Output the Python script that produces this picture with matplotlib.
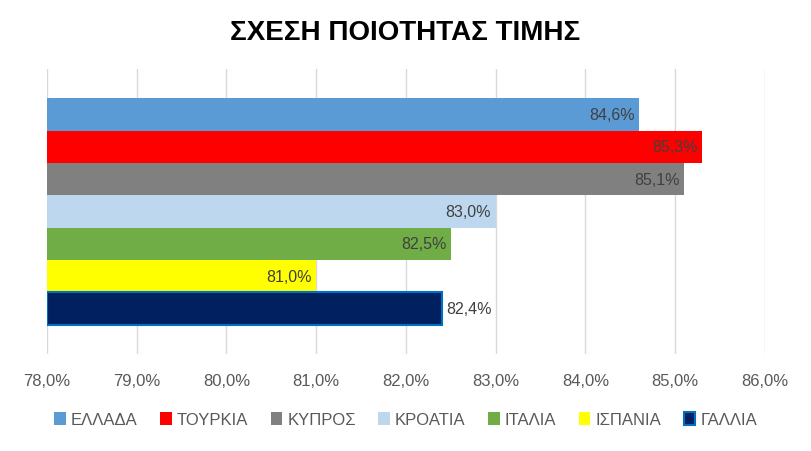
import matplotlib.pyplot as plt
from matplotlib.ticker import FuncFormatter

plt.rcParams['font.family'] = ['Liberation Sans Narrow', 'Liberation Sans', 'DejaVu Sans']

# δεδομένα
countries = ['ΕΛΛΑΔΑ', 'ΤΟΥΡΚΙΑ', 'ΚΥΠΡΟΣ', 'ΚΡΟΑΤΙΑ', 'ΙΤΑΛΙΑ', 'ΙΣΠΑΝΙΑ', 'ΓΑΛΛΙΑ']
values = [84.6, 85.3, 85.1, 83.0, 82.5, 81.0, 82.4]
colors = ['#5B9BD5', '#FF0000', '#808080', '#BDD7EE', '#70AD47', '#FFFF00', '#002060']
x_ticks = [78, 79, 80, 81, 82, 83, 84, 85, 86]

fig = plt.figure(figsize=(8.11, 4.52), dpi=100)
ax = fig.add_axes([0.058, 0.215, 0.885, 0.63])

base = 78.0
for i, (c, v, col) in enumerate(zip(countries, values, colors)):
    if c == 'ΓΑΛΛΙΑ':
        ax.barh(i, v - base, left=base, height=1.0, color=col,
                edgecolor='#0070C0', linewidth=1.5, label=c, zorder=3)
        ax.text(v + 0.05, i, f'{v:.1f}%'.replace('.', ','), va='center',
                ha='left', fontsize=11.5, color='#404040', zorder=4)
    else:
        ax.barh(i, v - base, left=base, height=1.0, color=col,
                label=c, zorder=3)
        ax.text(v - 0.05, i, f'{v:.1f}%'.replace('.', ','), va='center',
                ha='right', fontsize=11.5, color='#404040', zorder=4)

ax.set_xlim(78, 86)
ax.set_ylim(6.5 + 0.9, -0.5 - 0.9)
ax.set_xticks(x_ticks)
ax.xaxis.set_major_formatter(FuncFormatter(lambda x, p: f'{x:.1f}%'.replace('.', ',')))
ax.tick_params(axis='x', length=0, labelsize=12, labelcolor='#595959', pad=14)
ax.set_yticks([])
ax.grid(axis='x', color='#D9D9D9', linewidth=1, zorder=0)
for s in ax.spines.values():
    s.set_visible(False)

fig.suptitle('ΣΧΕΣΗ ΠΟΙΟΤΗΤΑΣ ΤΙΜΗΣ', y=0.955, fontsize=20, fontweight='bold')

fig.legend(loc='center', bbox_to_anchor=(0.5, 0.07), ncol=7, frameon=False,
           fontsize=12, labelcolor='#595959', handlelength=0.7, handleheight=0.8,
           handletextpad=0.3, columnspacing=1.35)

fig.savefig('out.png', dpi=100)
